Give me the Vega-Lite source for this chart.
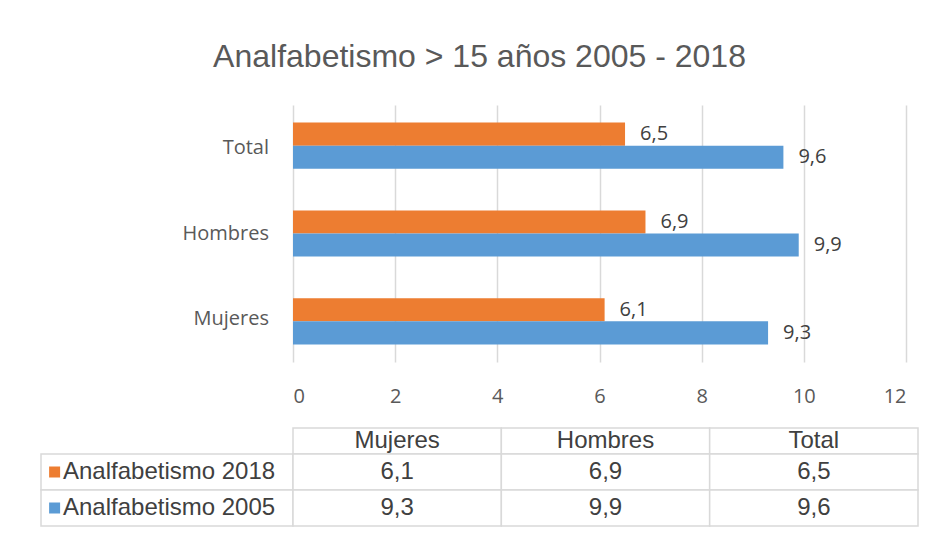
{
  "$schema": "https://vega.github.io/schema/vega-lite/v6.json",
  "background": "white",
  "padding": {"left": 40, "top": 41, "right": 20, "bottom": 21},
  "title": {"text": "Analfabetismo > 15 años 2005 - 2018", "anchor": "middle", "fontSize": 32, "font": "Liberation Sans", "fontWeight": "normal", "color": "#595959", "offset": 31},
  "datasets": {
    "rates": [
      {"category": "Mujeres", "serie": "Analfabetismo 2018", "value": 6.1},
      {"category": "Hombres", "serie": "Analfabetismo 2018", "value": 6.9},
      {"category": "Total", "serie": "Analfabetismo 2018", "value": 6.5},
      {"category": "Mujeres", "serie": "Analfabetismo 2005", "value": 9.3},
      {"category": "Hombres", "serie": "Analfabetismo 2005", "value": 9.9},
      {"category": "Total", "serie": "Analfabetismo 2005", "value": 9.6}
    ]
  },
  "data": {"name": "rates"},
  "spacing": 21,
  "vconcat": [
    {
      "bounds": "flush",
      "spacing": 0,
      "hconcat": [
        {
          "width": 252,
          "height": 257,
          "transform": [{"filter": "datum.serie === 'Analfabetismo 2018'"}],
          "mark": {"type": "text", "align": "right", "baseline": "middle", "dx": -24, "font": "Open Sans", "fontSize": 20, "color": "#595959"},
          "encoding": {
            "y": {"field": "category", "type": "nominal", "sort": ["Total", "Hombres", "Mujeres"], "scale": {"paddingInner": 0.475}, "axis": null},
            "x": {"datum": 1, "type": "quantitative", "scale": {"domain": [0, 1], "nice": false, "zero": false}, "axis": null},
            "text": {"field": "category", "type": "nominal"}
          }
        },
        {
          "width": 613,
          "height": 257,
          "encoding": {
            "y": {"field": "category", "type": "nominal", "sort": ["Total", "Hombres", "Mujeres"], "scale": {"paddingInner": 0.475}, "axis": null},
            "yOffset": {"field": "serie", "type": "nominal", "sort": ["Analfabetismo 2018", "Analfabetismo 2005"]},
            "x": {"field": "value", "type": "quantitative", "scale": {"domain": [0, 12], "nice": false}, "axis": {"title": null, "values": [0, 2, 4, 6, 8, 10, 12], "domain": false, "ticks": false, "grid": true, "gridColor": "#d9d9d9", "gridWidth": 1.5, "labelFont": "Open Sans", "labelFontSize": 20, "labelColor": "#595959", "labelPadding": 24, "format": "d"}}
          },
          "layer": [
            {
              "mark": {"type": "bar"},
              "encoding": {
                "color": {"field": "serie", "type": "nominal", "scale": {"domain": ["Analfabetismo 2018", "Analfabetismo 2005"], "range": ["#ED7D31", "#5B9BD5"]}, "legend": null}
              }
            },
            {
              "mark": {"type": "text", "align": "left", "baseline": "middle", "dx": 15, "font": "Open Sans", "fontSize": 20, "color": "#404040"},
              "encoding": {
                "text": {"field": "value", "type": "quantitative", "format": ".1f"}
              }
            }
          ]
        }
      ]
    },
    {
      "columns": 2,
      "align": "each",
      "bounds": "flush",
      "spacing": 0,
      "concat": [
        {
          "width": 252,
          "height": 26,
          "transform": [{"filter": "false"}],
          "mark": {"type": "rect"},
          "encoding": {}
        },
        {
          "width": 625,
          "height": 26,
          "transform": [{"filter": "datum.serie === 'Analfabetismo 2018'"}],
          "encoding": {
            "x": {"field": "category", "type": "nominal", "sort": ["Mujeres", "Hombres", "Total"], "scale": {"paddingInner": 0, "paddingOuter": 0}, "axis": null}
          },
          "layer": [
            {"mark": {"type": "rect", "fill": "white", "stroke": "#d9d9d9", "strokeWidth": 1.5}, "encoding": {"y": {"datum": 0, "type": "quantitative", "scale": {"domain": [0, 1], "nice": false, "zero": false}, "axis": null}, "y2": {"datum": 1}}},
            {"mark": {"type": "text", "font": "Liberation Sans", "fontSize": 24, "color": "#404040", "baseline": "middle"}, "encoding": {"text": {"field": "category", "type": "nominal"}}}
          ]
        },
        {
          "width": 252,
          "height": 72,
          "transform": [{"filter": "datum.category === 'Mujeres'"}],
          "encoding": {
            "y": {"field": "serie", "type": "nominal", "sort": ["Analfabetismo 2018", "Analfabetismo 2005"], "scale": {"paddingInner": 0, "paddingOuter": 0}, "axis": null}
          },
          "layer": [
            {"mark": {"type": "rect", "fill": "white", "stroke": "#d9d9d9", "strokeWidth": 1.5}, "encoding": {"x": {"datum": 0, "type": "quantitative", "scale": {"domain": [0, 1], "nice": false, "zero": false}, "axis": null}, "x2": {"datum": 1}}},
            {"mark": {"type": "point", "shape": "square", "size": 121, "filled": true, "opacity": 1}, "encoding": {"x": {"datum": 0.054, "type": "quantitative"}, "color": {"field": "serie", "type": "nominal", "scale": {"domain": ["Analfabetismo 2018", "Analfabetismo 2005"], "range": ["#ED7D31", "#5B9BD5"]}, "legend": null}}},
            {"mark": {"type": "text", "align": "left", "baseline": "middle", "dx": 22, "font": "Liberation Sans", "fontSize": 24, "color": "#404040"}, "encoding": {"x": {"datum": 0, "type": "quantitative"}, "text": {"field": "serie", "type": "nominal"}}}
          ]
        },
        {
          "width": 625,
          "height": 72,
          "encoding": {
            "x": {"field": "category", "type": "nominal", "sort": ["Mujeres", "Hombres", "Total"], "scale": {"paddingInner": 0, "paddingOuter": 0}, "axis": null},
            "y": {"field": "serie", "type": "nominal", "sort": ["Analfabetismo 2018", "Analfabetismo 2005"], "scale": {"paddingInner": 0, "paddingOuter": 0}, "axis": null}
          },
          "layer": [
            {"mark": {"type": "rect", "fill": "white", "stroke": "#d9d9d9", "strokeWidth": 1.5}},
            {"mark": {"type": "text", "font": "Liberation Sans", "fontSize": 24, "color": "#404040", "baseline": "middle"}, "encoding": {"text": {"field": "value", "type": "quantitative", "format": ".1f"}}}
          ]
        }
      ]
    }
  ],
  "config": {
    "view": {"stroke": null},
    "axis": {"titlePadding": 0},
    "locale": {"number": {"decimal": ",", "thousands": ".", "grouping": [3], "currency": ["", " €"]}}
  }
}
